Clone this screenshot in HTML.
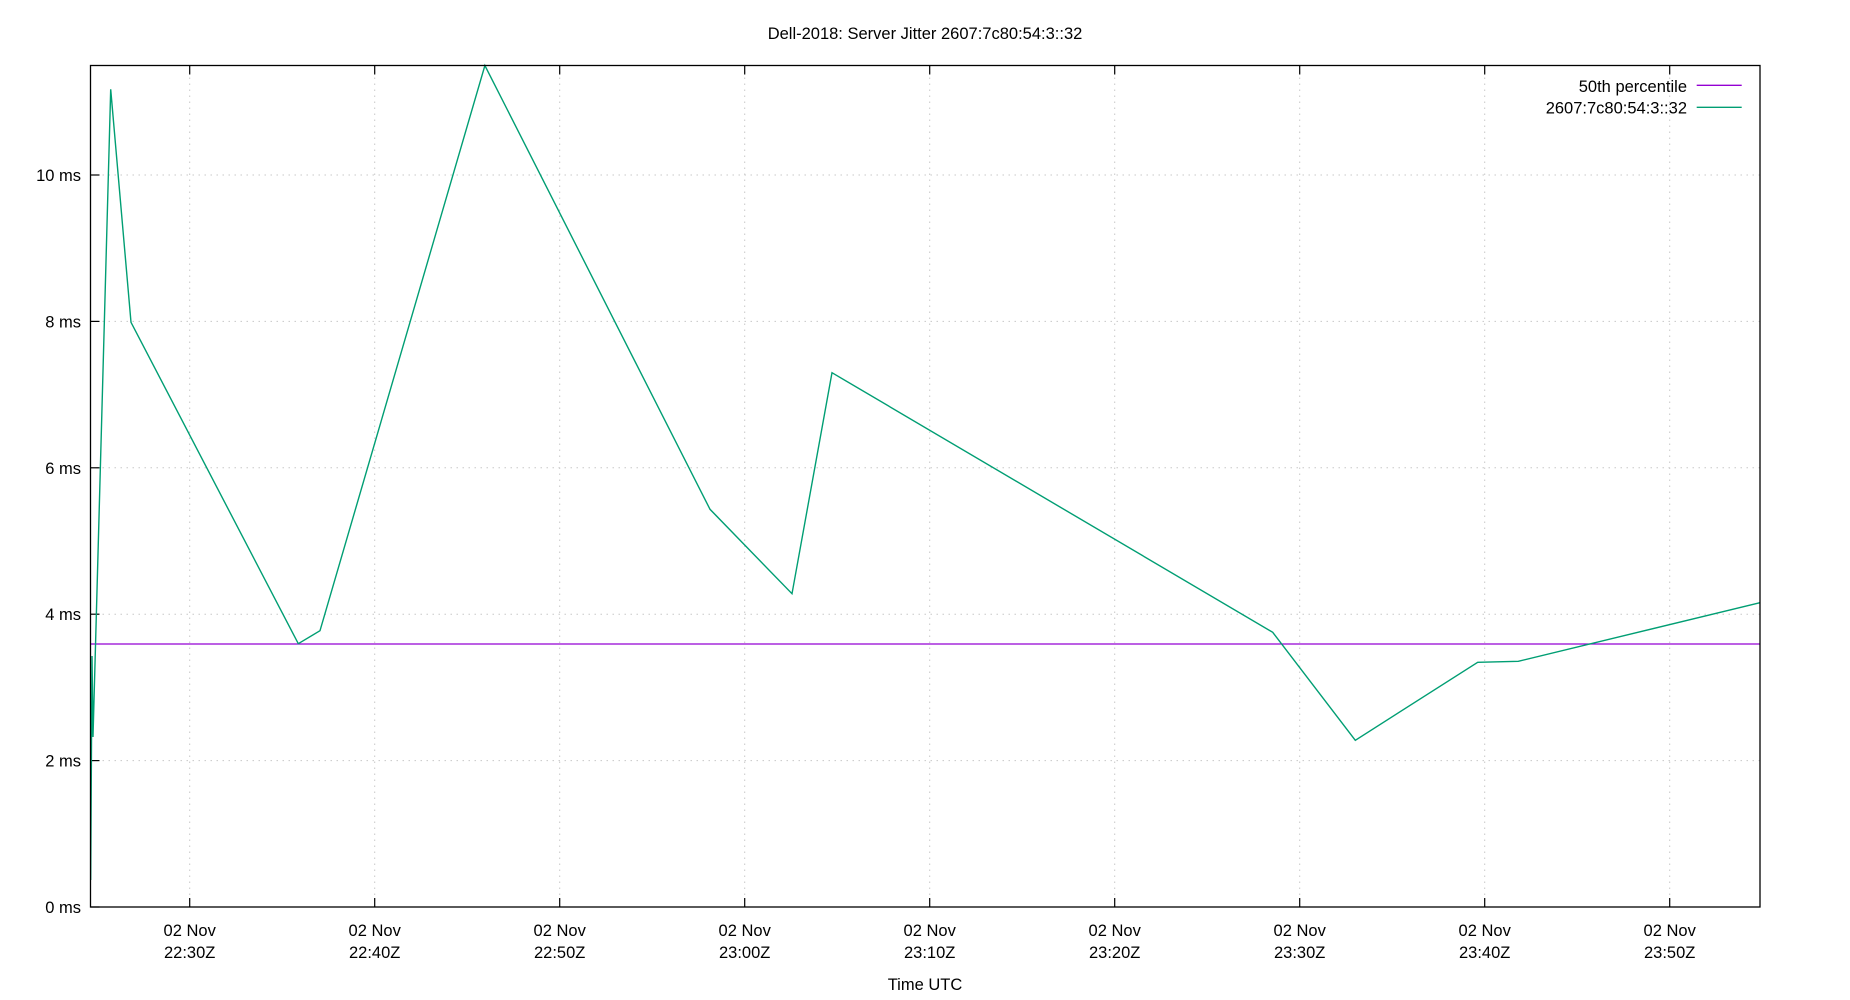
<!DOCTYPE html>
<html>
<head>
<meta charset="utf-8">
<style>
  html, body { margin: 0; padding: 0; background: #ffffff; }
  svg { display: block; }
  text { font-family: "Liberation Sans", "DejaVu Sans", sans-serif; font-size: 16.5px; fill: #000; }
</style>
</head>
<body>
<svg width="1850" height="1000" viewBox="0 0 1850 1000" xmlns="http://www.w3.org/2000/svg">
  <rect x="0" y="0" width="1850" height="1000" fill="#ffffff"/>

  <!-- grid -->
  <g stroke="#c8c8c8" stroke-width="1" stroke-dasharray="1.5,4.5" fill="none">
    <line x1="90.5" y1="760.6" x2="1760" y2="760.6"/>
    <line x1="90.5" y1="614.2" x2="1760" y2="614.2"/>
    <line x1="90.5" y1="467.8" x2="1760" y2="467.8"/>
    <line x1="90.5" y1="321.4" x2="1760" y2="321.4"/>
    <line x1="90.5" y1="175" x2="1760" y2="175"/>
    <line x1="189.7" y1="65.5" x2="189.7" y2="907"/>
    <line x1="374.7" y1="65.5" x2="374.7" y2="907"/>
    <line x1="559.7" y1="65.5" x2="559.7" y2="907"/>
    <line x1="744.7" y1="65.5" x2="744.7" y2="907"/>
    <line x1="929.7" y1="65.5" x2="929.7" y2="907"/>
    <line x1="1114.7" y1="65.5" x2="1114.7" y2="907"/>
    <line x1="1299.7" y1="65.5" x2="1299.7" y2="907"/>
    <line x1="1484.7" y1="65.5" x2="1484.7" y2="907"/>
    <line x1="1669.7" y1="65.5" x2="1669.7" y2="907"/>
  </g>

  <!-- ticks -->
  <g stroke="#000" stroke-width="1.2">
    <line x1="90.5" y1="907" x2="99.5" y2="907"/>
    <line x1="90.5" y1="760.6" x2="99.5" y2="760.6"/>
    <line x1="90.5" y1="614.2" x2="99.5" y2="614.2"/>
    <line x1="90.5" y1="467.8" x2="99.5" y2="467.8"/>
    <line x1="90.5" y1="321.4" x2="99.5" y2="321.4"/>
    <line x1="90.5" y1="175" x2="99.5" y2="175"/>
    <line x1="189.7" y1="907" x2="189.7" y2="898"/>
    <line x1="374.7" y1="907" x2="374.7" y2="898"/>
    <line x1="559.7" y1="907" x2="559.7" y2="898"/>
    <line x1="744.7" y1="907" x2="744.7" y2="898"/>
    <line x1="929.7" y1="907" x2="929.7" y2="898"/>
    <line x1="1114.7" y1="907" x2="1114.7" y2="898"/>
    <line x1="1299.7" y1="907" x2="1299.7" y2="898"/>
    <line x1="1484.7" y1="907" x2="1484.7" y2="898"/>
    <line x1="1669.7" y1="907" x2="1669.7" y2="898"/>
    <line x1="189.7" y1="65.5" x2="189.7" y2="74.5"/>
    <line x1="374.7" y1="65.5" x2="374.7" y2="74.5"/>
    <line x1="559.7" y1="65.5" x2="559.7" y2="74.5"/>
    <line x1="744.7" y1="65.5" x2="744.7" y2="74.5"/>
    <line x1="929.7" y1="65.5" x2="929.7" y2="74.5"/>
    <line x1="1114.7" y1="65.5" x2="1114.7" y2="74.5"/>
    <line x1="1299.7" y1="65.5" x2="1299.7" y2="74.5"/>
    <line x1="1484.7" y1="65.5" x2="1484.7" y2="74.5"/>
    <line x1="1669.7" y1="65.5" x2="1669.7" y2="74.5"/>
  </g>

  <!-- median line -->
  <line x1="90.5" y1="644" x2="1760" y2="644" stroke="#9400d3" stroke-width="1.3"/>

  <!-- series -->
  <polyline fill="none" stroke="#009e73" stroke-width="1.4" stroke-linejoin="miter"
    points="90.7,880 92,656 93,737 110.7,89.3 131,322.3 298.3,643.7 320,630.7 484.9,65.5 710,509.3 792,593.7 832,372.7 1272.7,632.3 1355.3,740.3 1477.7,662.3 1518.3,661.3 1760,602.7"/>

  <!-- frame -->
  <rect x="90.5" y="65.5" width="1669.5" height="841.5" fill="none" stroke="#000" stroke-width="1.3"/>

  <!-- y labels -->
  <g text-anchor="end">
    <text x="81" y="913">0 ms</text>
    <text x="81" y="766.6">2 ms</text>
    <text x="81" y="620.2">4 ms</text>
    <text x="81" y="473.8">6 ms</text>
    <text x="81" y="327.4">8 ms</text>
    <text x="81" y="181">10 ms</text>
  </g>

  <!-- x labels -->
  <g text-anchor="middle">
    <text x="189.7" y="936">02 Nov</text><text x="189.7" y="958">22:30Z</text>
    <text x="374.7" y="936">02 Nov</text><text x="374.7" y="958">22:40Z</text>
    <text x="559.7" y="936">02 Nov</text><text x="559.7" y="958">22:50Z</text>
    <text x="744.7" y="936">02 Nov</text><text x="744.7" y="958">23:00Z</text>
    <text x="929.7" y="936">02 Nov</text><text x="929.7" y="958">23:10Z</text>
    <text x="1114.7" y="936">02 Nov</text><text x="1114.7" y="958">23:20Z</text>
    <text x="1299.7" y="936">02 Nov</text><text x="1299.7" y="958">23:30Z</text>
    <text x="1484.7" y="936">02 Nov</text><text x="1484.7" y="958">23:40Z</text>
    <text x="1669.7" y="936">02 Nov</text><text x="1669.7" y="958">23:50Z</text>
  </g>

  <!-- axis title -->
  <text x="925" y="990" text-anchor="middle">Time UTC</text>

  <!-- chart title -->
  <text x="925" y="39" text-anchor="middle">Dell-2018: Server Jitter 2607:7c80:54:3::32</text>

  <!-- legend -->
  <text x="1687" y="92" text-anchor="end">50th percentile</text>
  <line x1="1696.7" y1="85.3" x2="1741.7" y2="85.3" stroke="#9400d3" stroke-width="1.3"/>
  <text x="1687" y="113.3" text-anchor="end">2607:7c80:54:3::32</text>
  <line x1="1696.7" y1="107.3" x2="1741.7" y2="107.3" stroke="#009e73" stroke-width="1.3"/>
</svg>
</body>
</html>
